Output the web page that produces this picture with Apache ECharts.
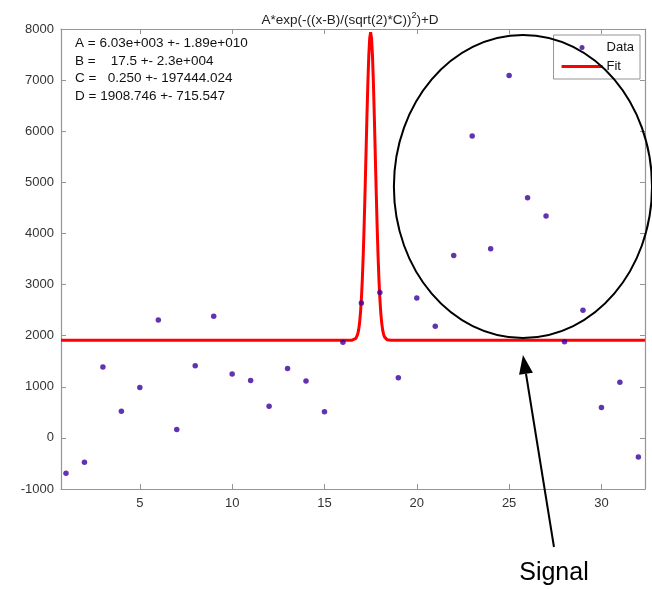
<!DOCTYPE html>
<html><head><meta charset="utf-8">
<script src="https://cdn.jsdelivr.net/npm/echarts@6/dist/echarts.min.js"></script>
<style>html,body{margin:0;padding:0;background:#fff}#c{width:652px;height:589px}</style>
</head><body><div id="c"></div>
<script>
// ---- data ----
const xValues = [1,2,3,4,5,6,7,8,9,10,11,12,13,14,15,16,17,18,19,20,21,22,23,24,25,26,27,28,29,30,31,32];
const dataValues = [-690,-477,1386,523,987,2308,163,1412,2379,1249,1124,621,1359,1111,510,1869,2641,2843,1176,2739,2183,3569,5908,3699,7090,4699,4340,1882,2497,595,1091,-373];
const fitX = [0.73,16.3,16.4,16.5,16.6,16.7,16.75,16.8,16.85,16.9,16.95,17.0,17.05,17.1,17.15,17.2,17.25,17.3,17.35,17.4,17.45,17.5,17.55,17.6,17.65,17.7,17.75,17.8,17.85,17.9,17.95,18.0,18.05,18.1,18.15,18.2,18.25,18.3,18.4,18.5,18.6,18.7,32.36];
const fitY = [1909,1909,1909,1911,1918,1945,1976,2029,2114,2247,2445,2725,3102,3585,4172,4844,5566,6287,6946,7475,7820,7939,7820,7475,6946,6287,5566,4844,4172,3585,3102,2725,2445,2247,2114,2029,1976,1945,1918,1911,1909,1909,1909];
const xTicks = [5,10,15,20,25,30];
const yTicks = [-1000,0,1000,2000,3000,4000,5000,6000,7000,8000];
const fitParams = ['A = 6.03e+003 +- 1.89e+010','B =    17.5 +- 2.3e+004','C =   0.250 +- 197444.024','D = 1908.746 +- 715.547'];
const titleParts = ['A*exp(-((x-B)/(sqrt(2)*C))', '2', ')+D'];
const seriesNames = ['Data','Fit'];
const annotationLabel = 'Signal';
// annotation geometry in data units
const ellipseCenter = [25.75, 4918];
const ellipseRadii = [6.99, 2965];
const arrowTip = [25.75, 1622];
const arrowTail = [27.43, -2135];
const labelPos = [27.43, -2643];

const FONT = '"Liberation Sans", Arial, sans-serif';
const axisGray = '#959595';
const chart = echarts.init(document.getElementById('c'), null, {renderer:'canvas'});

const xMin = 0.73, xMax = 32.36;
const baseAxisX = {
  type:'value', min:xMin, max:xMax,
  axisLine:{show:true, onZero:false, lineStyle:{color:axisGray, width:1.2}},
  axisTick:{show:true, inside:true, length:5, customValues:xTicks, lineStyle:{color:axisGray}},
  axisLabel:{show:true, customValues:xTicks, color:'#333', fontSize:13, fontFamily:FONT, margin:8},
  splitLine:{show:false}
};
const baseAxisY = {
  type:'value', min:yTicks[0], max:yTicks[yTicks.length-1], interval:1000,
  axisLine:{show:true, onZero:false, lineStyle:{color:axisGray, width:1.2}},
  axisTick:{show:true, inside:true, length:5, lineStyle:{color:axisGray}},
  axisLabel:{show:true, color:'#333', fontSize:13, fontFamily:FONT, margin:7, formatter:(v)=>String(v)},
  splitLine:{show:false}
};

chart.setOption({
  backgroundColor:'#fff',
  animation:false,
  title:{
    text:'{a|' + titleParts[0] + '}{s|' + titleParts[1] + '}{a|' + titleParts[2] + '}',
    left:345, top:6, textAlign:'center',
    textStyle:{fontWeight:'normal', rich:{
      a:{fontSize:13.5, fontFamily:FONT, fontWeight:'normal', color:'#222', verticalAlign:'bottom', lineHeight:16},
      s:{fontSize:9, fontFamily:FONT, fontWeight:'normal', color:'#222', verticalAlign:'bottom', lineHeight:16, padding:[0,0,7,0]}
    }}
  },
  grid:{left:61, right:7, top:29, bottom:100, containLabel:false},
  xAxis:[
    Object.assign({}, baseAxisX, {position:'bottom'}),
    Object.assign({}, baseAxisX, {position:'top', axisLabel:{show:false}})
  ],
  yAxis:[
    Object.assign({}, baseAxisY, {position:'left'}),
    Object.assign({}, baseAxisY, {position:'right', axisLabel:{show:false}})
  ],
  legend:{
    orient:'vertical', right:12, top:35,
    itemWidth:41, itemHeight:5, itemGap:4,
    padding:[5,6,5,8],
    borderColor:axisGray, borderWidth:1, backgroundColor:'#fff',
    textStyle:{fontSize:13, fontFamily:FONT, color:'#111', lineHeight:15, padding:[0,0,0,-1]},
    data:[{name:seriesNames[0], icon:'circle'},{name:seriesNames[1], icon:'path://M0,0L40,0L40,3L0,3Z'}]
  },
  series:[
    {
      name:seriesNames[1], type:'line', xAxisIndex:0, yAxisIndex:0,
      data:fitX.map((x,i)=>[x, fitY[i]]),
      showSymbol:false, symbol:'none', smooth:false,
      lineStyle:{color:'#ff0000', width:3}, itemStyle:{color:'#ff0000'}, z:2
    },
    {
      name:seriesNames[0], type:'scatter', xAxisIndex:0, yAxisIndex:0,
      data:xValues.map((x,i)=>[x, dataValues[i]]),
      symbol:'circle', symbolSize:5.5,
      itemStyle:{color:'#3a009c'}, z:3
    }
  ]
});

function px(p){ return chart.convertToPixel({xAxisIndex:0, yAxisIndex:0}, p); }
const c = px(ellipseCenter);
const e2 = px([ellipseCenter[0]+ellipseRadii[0], ellipseCenter[1]+ellipseRadii[1]]);
const rx = Math.abs(e2[0]-c[0]), ry = Math.abs(e2[1]-c[1]);
const tip = px(arrowTip), tail = px(arrowTail), lab = px(labelPos);
const dx = tip[0]-tail[0], dy = tip[1]-tail[1], L = Math.hypot(dx,dy);
const ux = dx/L, uy = dy/L, hl = 19, hw = 7;
const base = [tip[0]-ux*hl, tip[1]-uy*hl];
const p1 = [base[0]-uy*hw, base[1]+ux*hw], p2 = [base[0]+uy*hw, base[1]-ux*hw];

const paramGraphics = fitParams.map((t,i)=>({
  type:'text', left:75, top:36.5 + i*17.5,
  style:{text:t, font:'13.5px ' + FONT, fill:'#111'}
}));

chart.setOption({
  graphic:[
    {type:'ellipse', shape:{cx:c[0], cy:c[1], rx:rx, ry:ry}, style:{fill:null, stroke:'#000', lineWidth:2}, z:10, silent:true},
    {type:'line', shape:{x1:tail[0], y1:tail[1], x2:base[0], y2:base[1]}, style:{stroke:'#000', lineWidth:2}, z:10},
    {type:'polygon', shape:{points:[tip, p1, p2]}, style:{fill:'#000'}, z:10},
    {type:'text', x:lab[0], y:lab[1], style:{text:annotationLabel, font:'25px ' + FONT, fill:'#000', textAlign:'center', textVerticalAlign:'middle'}, z:10}
  ].concat(paramGraphics)
});
</script>
</body></html>
